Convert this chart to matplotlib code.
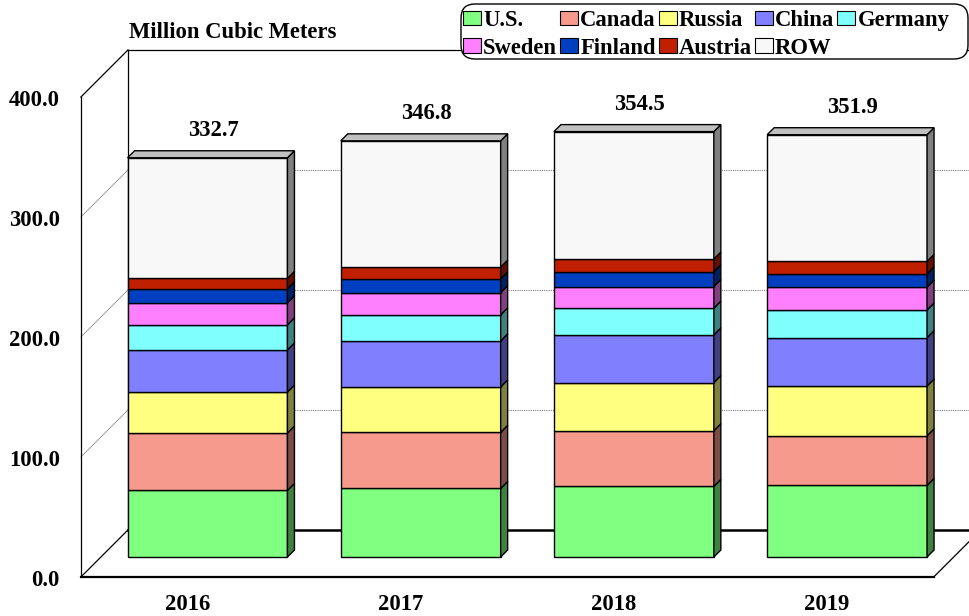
import matplotlib.pyplot as plt
from matplotlib.patches import Polygon, Patch, FancyBboxPatch
from matplotlib.transforms import IdentityTransform
from matplotlib.font_manager import FontProperties

# data (million cubic meters)
years = ['2016', '2017', '2018', '2019']
countries = ['U.S.', 'Canada', 'Russia', 'China', 'Germany',
             'Sweden', 'Finland', 'Austria', 'ROW']
us = [55.5, 57.1, 58.8, 59.6]
canada = [47.8, 46.8, 46.4, 41.4]
russia = [34.2, 37.8, 40.1, 41.5]
china = [35.1, 38.4, 39.8, 40.3]
germany = [20.9, 21.7, 22.3, 23.1]
sweden = [18.4, 18.6, 18.0, 19.0]
finland = [11.7, 11.4, 12.3, 11.1]
austria = [8.6, 9.8, 10.6, 10.3]
row = [100.5, 105.2, 106.2, 105.6]
totals = [332.7, 346.8, 354.5, 351.9]
yticks = [0, 100, 200, 300, 400]

series = [us, canada, russia, china, germany, sweden, finland, austria, row]
face = ['#80FF80', '#F59A8C', '#FFFF80', '#8080FF', '#80FFFF',
        '#FF80FF', '#0040C0', '#C02000', '#F8F8F8']
side = ['#408040', '#7A4D46', '#808040', '#404080', '#408080',
        '#804080', '#002060', '#601000', '#808080']

# fake 3d: depth in pixels pushes right and up
PXC = 213.2   # pixels per category
PXV = 1.2     # pixels per unit
WALL = 47
D0, D1 = 20, 27
W = 0.75


def p(c, v, d=0):
    return (c + d / PXC, v + d / PXV)


bold = FontProperties(family='Liberation Serif', weight='bold', size=16.3)

fig = plt.figure(figsize=(9.7, 6.16), dpi=100)
ax = fig.add_axes([0, 0, 1, 1])
ax.set_xlim(-187.5 / PXC, (970 - 187.5) / PXC)
ax.set_ylim(-39 / PXV, 577 / PXV)
ax.axis('off')

left, right = -0.5, len(years) - 0.5
top = yticks[-1]

# gridlines: side wall (solid) and back wall (dotted)
for v in yticks[1:-1]:
    xs, ys = zip(p(left, v, 0), p(left, v, WALL))
    ax.plot(xs, ys, color='#A0A0A0', lw=0.7)
    xs, ys = zip(p(left, v, WALL), p(right + 0.3, v, WALL))
    ax.plot(xs, ys, color='#808080', lw=0.8, ls=(0, (1, 1)))

# walls outline
for a, b in [((left, 0, 0), (left, top, 0)),
             ((left, top, 0), (left, top, WALL)),
             ((left, 0, WALL), (left, top, WALL)),
             ((left, top, WALL), (right + 0.3, top, WALL)),
             ((left, 0, 0), (left, 0, WALL)),
             ((right, 0, 0), (right, 0, WALL))]:
    xs, ys = zip(p(*a), p(*b))
    ax.plot(xs, ys, color='black', lw=0.9)

# floor edges
xs, ys = zip(p(left, 0, 0), p(right, 0, 0))
ax.plot(xs, ys, color='black', lw=1.6)
xs, ys = zip(p(left, 0, WALL), p(right + 0.3, 0, WALL))
ax.plot(xs, ys, color='black', lw=1.8)

# stacked bars
for i in range(len(years)):
    base = 0
    for k, vals in enumerate(series):
        b, t = base, base + vals[i]
        front = [p(i - W / 2, b, D0), p(i + W / 2, b, D0),
                 p(i + W / 2, t, D0), p(i - W / 2, t, D0)]
        sd = [p(i + W / 2, b, D0), p(i + W / 2, b, D1),
              p(i + W / 2, t, D1), p(i + W / 2, t, D0)]
        ax.add_patch(Polygon(front, closed=True, fc=face[k], ec='black', lw=1.0, zorder=3))
        ax.add_patch(Polygon(sd, closed=True, fc=side[k], ec='black', lw=1.0, zorder=3))
        base = t
    tp = [p(i - W / 2, base, D0), p(i + W / 2, base, D0),
          p(i + W / 2, base, D1), p(i - W / 2, base, D1)]
    ax.add_patch(Polygon(tp, closed=True, fc='#C0C0C0', ec='black', lw=1.0, zorder=3))
    ax.text(i + 25.5 / PXC, totals[i] + 41.5 / PXV, f'{totals[i]:.1f}',
            ha='center', va='baseline', fontproperties=bold, zorder=4)
    ax.text(i, -33 / PXV, years[i], ha='center', va='baseline', fontproperties=bold)

for v in yticks:
    ax.text(left - 21 / PXC, v - 8.5 / PXV, f'{v:.1f}', ha='right', va='baseline',
            fontproperties=bold)

fig.text(129 / 970, 1 - 37.5 / 616, 'Million Cubic Meters', ha='left', va='baseline',
         fontproperties=bold)

# legend box (rounded), drawn in pixels
box = FancyBboxPatch((461, 616 - 59), 507, 55, boxstyle='round,pad=0,rounding_size=14',
                     fc='white', ec='black', lw=1.0, transform=IdentityTransform(),
                     zorder=4)
fig.add_artist(box)

# legend, ordered so that rows read across
order = [0, 5, 1, 6, 2, 7, 3, 8, 4]
handles = [Patch(fc=face[k], ec='black', lw=0.8) for k in order]
labels = [countries[k] for k in order]
leg = fig.legend(handles, labels, ncol=5, loc='upper left',
                 bbox_to_anchor=(460 / 970, 1 - 7 / 616), bbox_transform=fig.transFigure,
                 prop=bold, frameon=False, borderaxespad=0,
                 handlelength=0.8, handleheight=0.6, handletextpad=0.1,
                 columnspacing=0.12, labelspacing=0.3, borderpad=0.12)
leg.set_zorder(5)

fig.savefig('out.png', dpi=100)
